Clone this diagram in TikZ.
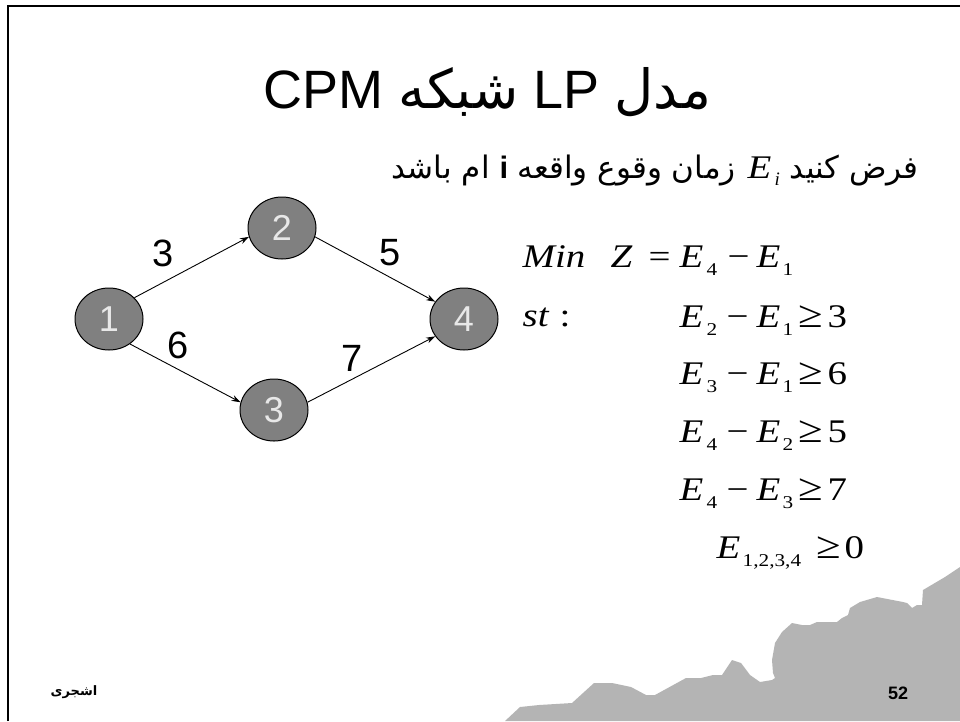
\documentclass[tikz,border=0pt]{standalone}
\usepackage{fontspec}
\usepackage{graphicx}
\usetikzlibrary{shapes.geometric,arrows.meta}
\setmainfont{Liberation Sans}
\newfontfamily\arabicfont[Script=Arabic]{DejaVu Sans}
\newfontfamily\tnr{Liberation Serif}
\newfontfamily\tnrw[FakeStretch=1.18]{Liberation Serif}
\TeXXeTstate=1
\newcommand\At[2]{\rlap{\hspace{#1pt}#2}}
\newcommand\Sb[1]{\raisebox{-8pt}{\upshape\fontsize{18}{18}\selectfont #1}}
\newcommand\It[1]{{\itshape #1}}
\newcommand\Ge{\scalebox{1.15}{≥}}
\definecolor{nodegray}{RGB}{128,128,128}
\definecolor{mount}{RGB}{180,180,180}
\definecolor{digitgray}{RGB}{232,232,232}
\tikzset{
  ev/.style={ellipse,draw=black,line width=1pt,fill=nodegray,minimum width=68pt,minimum height=62pt,inner sep=0pt,text=digitgray,font=\fontsize{36}{36}\selectfont},
  act/.style={draw=black,line width=0.9pt,-{Stealth[length=9pt,width=6pt]}},
  elab/.style={font=\fontsize{38}{38}\selectfont,inner sep=0pt},
  eq/.style={anchor=base west,inner sep=0pt,font=\tnrw\fontsize{33}{33}\selectfont},
}
\begin{document}
\begin{tikzpicture}[x=1pt,y=-1pt]
\useasboundingbox (0,0) rectangle (960,721);
\fill[white] (0,0) rectangle (960,721);
% mountain
\fill[mount] (505,721) -- (520,707) -- (539,705) -- (572,703) -- (594,683) -- (612,683) -- (631,687) -- (646,695) -- (655,695) -- (686,678) -- (701,678) -- (713,675) -- (722,675) -- (732,660) -- (741,663) -- (750,675) -- (760,682) -- (772,680) -- (775,678) -- (773,673) -- (772,660) -- (775,643) -- (782,632) -- (792,623) -- (802,625) -- (810,625) -- (817,622) -- (837,622) -- (842,618) -- (848,615) -- (850,608) -- (860,602) -- (877,597) -- (903,602) -- (907,603) -- (912,608) -- (917,605) -- (922,605) -- (923,590) -- (945,577) -- (960,567) -- (960,721) -- cycle;
% frame
\draw[line width=2.5pt] (8,721) -- (8,6) -- (960,6);
% title
\node[anchor=base,inner sep=0pt] (title) at (487,108) {\fontsize{54}{60}\selectfont\beginR{\arabicfont مدل} LP {\arabicfont شبکه} CPM\endR};
% subtitle
\node[anchor=base east,inner sep=0pt] (sub) at (919,178) {\fontsize{31}{36}\selectfont\arabicfont\beginR فرض کنید\hspace{10pt}\beginL{\tnrw\fontsize{33}{33}\selectfont\itshape E}\hspace{3pt}\raisebox{-7pt}{\tnr\itshape\fontsize{19}{19}\selectfont i}\endL\hspace{12pt}زمان وقوع واقعه {\normalfont\bfseries i} ام باشد\endR};
% network
\node[ev] (n1) at (109,319) {1};
\node[ev] (n2) at (282,228) {2};
\node[ev] (n3) at (274,410) {3};
\node[ev] (n4) at (464,319) {4};
\draw[act] (n1.40) -- (n2.195);
\draw[act] (n2.345) -- (n4.149);
\draw[act] (n1.310) -- (n3.167);
\draw[act] (n3.13) -- (n4.211);
\node[elab] (l3) at (163,253) {3};
\node[elab] (l5) at (390,253) {5};
\node[elab] (l6) at (178,345) {6};
\node[elab] (l7) at (352,358) {7};
% equations
\node[eq] (obj) at (522,267) {\At{0}{\It{Min}}\At{88}{\It{Z}}\At{126}{=}\At{157}{\It{E}}\At{184}{\Sb{4}}\At{205}{−}\At{234}{\It{E}}\At{260}{\Sb{1}}};
\node[eq] (st) at (522,326) {\At{0}{\It{st}}\At{37}{:}};
\node[eq] (c1) at (678,327) {\At{1}{\It{E}}\At{28}{\Sb{2}}\At{48}{−}\At{78}{\It{E}}\At{104}{\Sb{1}}\At{120}{\Ge}\At{149}{3}};
\node[eq] (c2) at (678,384) {\At{1}{\It{E}}\At{28}{\Sb{3}}\At{48}{−}\At{78}{\It{E}}\At{104}{\Sb{1}}\At{120}{\Ge}\At{149}{6}};
\node[eq] (c3) at (678,442) {\At{1}{\It{E}}\At{28}{\Sb{4}}\At{48}{−}\At{78}{\It{E}}\At{104}{\Sb{2}}\At{120}{\Ge}\At{149}{5}};
\node[eq] (c4) at (678,500) {\At{1}{\It{E}}\At{28}{\Sb{4}}\At{48}{−}\At{78}{\It{E}}\At{104}{\Sb{3}}\At{120}{\Ge}\At{149}{7}};
\node[eq] (c5) at (715,558) {\At{1}{\It{E}}\At{27}{\Sb{1,2,3,4}}\At{101}{\Ge}\At{129}{0}};
% footer
\node[inner sep=0pt] (auth) at (74,692) {\arabicfont\bfseries\fontsize{13}{13}\selectfont\beginR اشجری\endR};
\node[inner sep=0pt] (page) at (898,693) {\bfseries\fontsize{18}{18}\selectfont 52};
\end{tikzpicture}
\end{document}
